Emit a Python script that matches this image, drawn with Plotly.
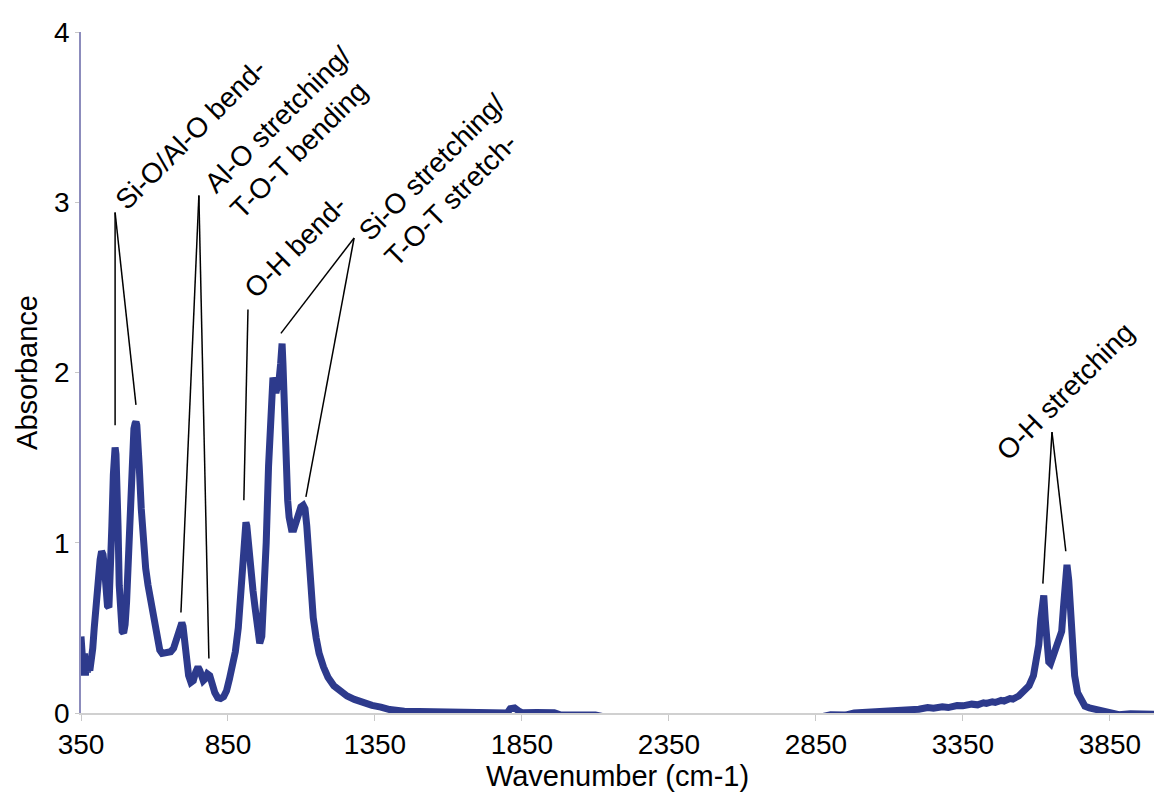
import plotly.graph_objects as go

# Spectrum values
wavenumber = [350, 353, 356, 359, 362, 365, 368, 372, 376, 380, 385, 390, 395, 400, 405, 410, 415, 420,
              425, 430, 435, 440, 445, 450, 455, 460, 463, 466, 469, 472, 476, 480, 485, 490, 495, 500, 505, 510,
              515, 520, 525, 530, 534, 537, 540, 544, 548, 555, 562, 570, 578, 586, 594, 602, 610, 618, 626, 635,
              645, 655, 665, 675, 685, 690, 693, 697, 702, 708, 716, 724, 732, 740, 748, 754, 760, 766, 772, 780,
              788, 796, 805, 815, 825, 835, 845, 855, 865, 875, 885, 893, 900, 905, 908, 911, 914, 918, 922, 928,
              935, 942, 950, 958, 965, 972, 980, 988, 995, 999, 1003, 1008, 1013, 1018, 1024, 1029, 1034, 1037,
              1040, 1044, 1048, 1053, 1058, 1066, 1074, 1082, 1090, 1098, 1106, 1112, 1118, 1125, 1132, 1140, 1150,
              1160, 1175, 1190, 1210, 1230, 1255, 1280, 1310, 1340, 1370, 1400, 1450, 1500, 1600, 1700,
              1760, 1780, 1800, 1810, 1825, 1840, 1850, 1900, 1960, 1980, 2050, 2100, 2150, 2500, 2850,
              2900, 2950, 2980, 3000, 3050, 3070, 3100, 3130, 3150, 3180, 3200, 3230, 3250, 3280, 3300, 3330,
              3350, 3380, 3400, 3420, 3430, 3450, 3460, 3480, 3490, 3510, 3520, 3540, 3560, 3575, 3590, 3600,
              3608, 3615, 3620, 3625, 3630, 3636,
              3642, 3648, 3655, 3662, 3670, 3678, 3686, 3692, 3698, 3704, 3710, 3716, 3722, 3730, 3740,
              3752, 3765, 3780, 3800, 3830, 3860, 3880, 3920, 3950, 4000]
absorbance = [0.45, 0.30, 0.40, 0.22, 0.35, 0.22, 0.30, 0.24, 0.28, 0.25, 0.30, 0.38, 0.50, 0.62, 0.70, 0.80, 0.90, 0.95,
              0.93, 0.85, 0.72, 0.63, 0.62, 0.80, 1.10, 1.40, 1.52, 1.56, 1.52, 1.40, 1.10, 0.75, 0.55, 0.48, 0.47, 0.52, 0.65, 0.90,
              1.20, 1.45, 1.60, 1.67, 1.70, 1.71, 1.69, 1.60, 1.45, 1.20, 1.00, 0.85, 0.75, 0.68, 0.60, 0.50, 0.42, 0.37, 0.35, 0.35,
              0.36, 0.36, 0.38, 0.44, 0.50, 0.52, 0.53, 0.51, 0.43, 0.30, 0.22, 0.18, 0.19, 0.24, 0.27, 0.25, 0.21, 0.19, 0.20, 0.23,
              0.22, 0.17, 0.12, 0.09, 0.085, 0.095, 0.13, 0.20, 0.28, 0.36, 0.50, 0.70, 0.95, 1.06, 1.10, 1.12, 1.10, 1.02, 0.90, 0.77,
              0.72, 0.62, 0.48, 0.41, 0.45, 0.65, 1.00, 1.45, 1.82, 1.93, 1.97, 1.93, 1.88, 1.92, 1.96, 2.05, 2.17, 2.05,
              1.85, 1.62, 1.42, 1.25, 1.15, 1.08, 1.08, 1.12, 1.18, 1.21, 1.22, 1.20, 1.10, 0.92, 0.72, 0.56, 0.44,
              0.35, 0.27, 0.21, 0.16, 0.13, 0.10, 0.08, 0.06, 0.045, 0.035, 0.02, 0.01, 0.008, 0.006, 0.006,
              0.005, 0.0, 0.0, 0.025, 0.03, 0.01, 0.002, 0.003, 0.002, -0.01, -0.008, -0.012, -0.03, -0.03, -0.03,
              -0.01, -0.012, 0.0, 0.002, 0.003, 0.012, 0.012, 0.018, 0.014, 0.024, 0.022, 0.032, 0.028, 0.036, 0.032, 0.044,
              0.042, 0.052, 0.048, 0.060, 0.056, 0.066, 0.062, 0.074, 0.070, 0.085, 0.082, 0.10, 0.13, 0.16, 0.22, 0.30,
              0.40, 0.55, 0.66, 0.69, 0.55, 0.38,
              0.30, 0.29, 0.33, 0.36, 0.40, 0.44, 0.48, 0.62, 0.80, 0.87, 0.78, 0.55, 0.36, 0.22, 0.12,
              0.07, 0.04, 0.03, 0.02, 0.01, 0.0, -0.01, -0.005, -0.01, -0.008]

x_ticks = [350, 850, 1350, 1850, 2350, 2850, 3350, 3850]
y_ticks = [0, 1, 2, 3, 4]

labels = ["Si-O/Al-O bend-", "Al-O stretching/<br>T-O-T bending", "O-H bend-",
          "Si-O stretching/<br>T-O-T stretch-", "O-H stretching"]
label_pos = [(722, 3.40), (1062, 3.41), (1081, 2.74), (1585, 3.13), (3698, 1.89)]
# leader lines: (apex, [targets])
leaders = [((466, 2.94), [(466, 1.69), (537, 1.81)]),
           ((751, 3.04), [(690, 0.59), (785, 0.32)]),
           ((918, 2.37), [(904, 1.25)]),
           ((1279, 2.79), [(1030, 2.23), (1115, 1.27)]),
           ((3653, 1.65), [(3622, 0.76), (3700, 0.95)])]

FONT = "Liberation Sans, Arial, sans-serif"

fig = go.Figure()
fig.add_trace(go.Scatter(x=wavenumber, y=absorbance, mode="lines",
                         line=dict(color="#2d3a8c", width=7), showlegend=False))

for (ax0, ay0), targets in leaders:
    for (tx, ty) in targets:
        fig.add_shape(type="line", x0=ax0, y0=ay0, x1=tx, y1=ty, xref="x", yref="y",
                      line=dict(color="black", width=1.5))

for txt, (lx, ly) in zip(labels, label_pos):
    fig.add_annotation(x=lx, y=ly, xref="x", yref="y", text=txt, showarrow=False,
                       textangle=-45, align="left", xanchor="center", yanchor="middle",
                       font=dict(family=FONT, size=28, color="black"))

fig.update_layout(
    width=1160, height=796,
    margin=dict(l=81, r=6, t=32, b=83),
    plot_bgcolor="white", paper_bgcolor="white",
    font=dict(family=FONT, size=28, color="black"),
    xaxis=dict(range=[350, 4000], tickvals=x_ticks, ticktext=[str(v) for v in x_ticks],
               showgrid=False, zeroline=False, showline=True, linecolor="#d0d0d0", linewidth=1.5,
               ticks="outside", ticklen=6, tickcolor="#c8c8c8", automargin=False,
               title=dict(text="Wavenumber (cm-1)", font=dict(size=29), standoff=4),
               tickfont=dict(size=28)),
    yaxis=dict(range=[0, 4], tickvals=y_ticks, showgrid=False, zeroline=False,
               showline=True, linecolor="#8c8cbc", linewidth=1.5,
               ticks="outside", ticklen=4, tickcolor="#c8c8c8", automargin=False,
               title=dict(text="Absorbance", font=dict(size=29), standoff=8),
               tickfont=dict(size=28)),
)

fig.write_html("out.html", config={"displayModeBar": False},
               post_script="document.body.style.margin='0';document.body.style.overflow='hidden';")
